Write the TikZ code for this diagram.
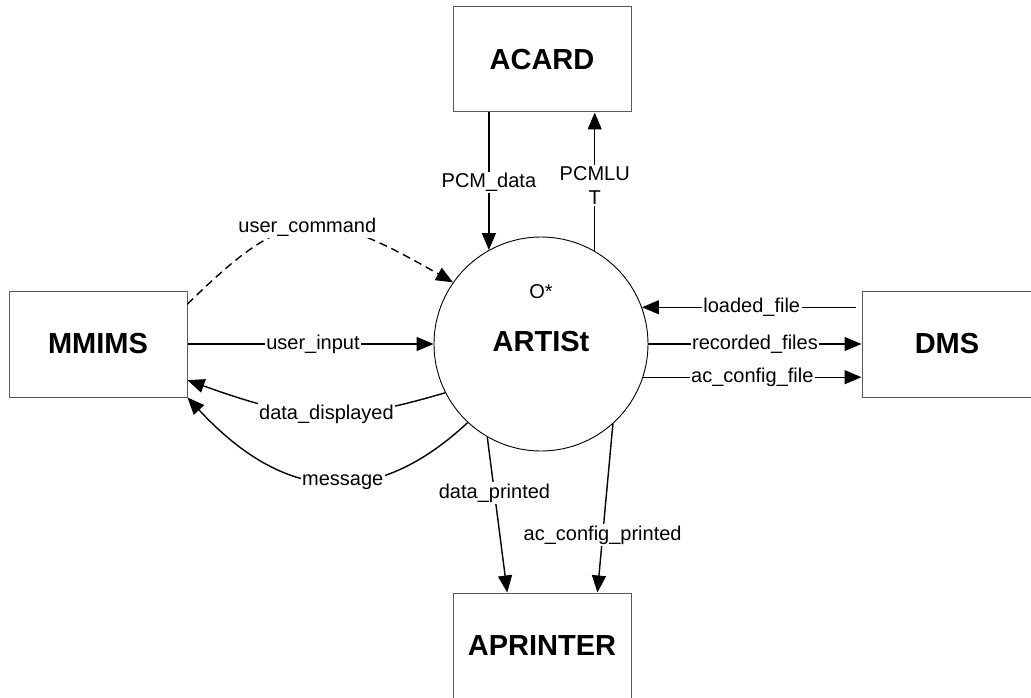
\documentclass[tikz,border=0pt]{standalone}
\usepackage{fontspec}
\setmainfont{Liberation Sans}
\usetikzlibrary{arrows.meta}
\begin{document}
\begin{tikzpicture}[x=1pt,y=-1pt,
  box/.style={draw=black!65, line width=1pt, minimum width=178pt, minimum height=106pt, inner sep=0pt, font=\fontsize{29}{34}\selectfont\bfseries},
  proc/.style={draw=black, line width=0.9pt, circle, minimum size=214pt, inner sep=0pt},
  flow/.style={line width=1.4pt, -{Triangle[length=17pt,width=14pt]}},
  lbl/.style={fill=white, inner sep=1.5pt, font=\fontsize{20}{24}\selectfont, align=center},
  big/.style={font=\fontsize{29}{34}\selectfont\bfseries, inner sep=0pt},
  small/.style={font=\fontsize{20}{24}\selectfont, inner sep=0pt}]
\clip (0,0) rectangle (1031,698);
\fill[white] (0,0) rectangle (1031,698);
% entities
\node[box, minimum height=105pt] (acard) at (542,59.5) {ACARD};
\node[box] (mmims) at (98,344) {MMIMS};
\node[box, minimum width=170pt] (dms) at (947,344) {DMS};
\node[box] (aprinter) at (542,646) {APRINTER};
% process
\node[proc] (artist) at (541,344) {};
\node[small] (ostar) at (541,292) {O*};
\node[big] (artistname) at (541,342) {ARTISt};
% flows with ACARD
\draw[flow] (acard.south -| artist.119) -- (artist.119)
  node[lbl, pos=0.51] {PCM\_data};
\draw[flow] (artist.60) -- (artist.60 |- acard.south)
  node[lbl, pos=0.47] {PCMLU\\T};
% flows with MMIMS
\draw[flow, dash pattern=on 8pt off 5pt] (mmims.24) .. controls (288,205) and (318,205) .. (artist.145)
  node[lbl, pos=0.5] {user\_command};
\draw[flow] (mmims.east) -- (artist.west)
  node[lbl, pos=0.51] {user\_input};
\draw[flow] (artist.207) .. controls (341,423) and (307,423) .. (mmims.-22)
  node[lbl, pos=0.48] {data\_displayed};
\draw[flow] (artist.227) .. controls (378,506) and (288,506) .. (mmims.south east)
  node[lbl, pos=0.46] {message};
% flows with DMS
\draw[flow, shorten <=6pt] (dms.west |- artist.20) -- (artist.20)
  node[lbl, pos=0.5] {loaded\_file};
\draw[flow] (artist.east) -- (dms.west)
  node[lbl, pos=0.5] {recorded\_files};
\draw[flow] (artist.-18.5) -- (artist.-18.5 -| dms.west)
  node[lbl, pos=0.5] {ac\_config\_file};
% flows with APRINTER
\draw[flow] (artist.240) -- (aprinter.123.4)
  node[lbl, pos=0.36] {data\_printed};
\draw[flow] (artist.-48) -- (aprinter.44.5)
  node[lbl, pos=0.66] {ac\_config\_printed};
\end{tikzpicture}
\end{document}
